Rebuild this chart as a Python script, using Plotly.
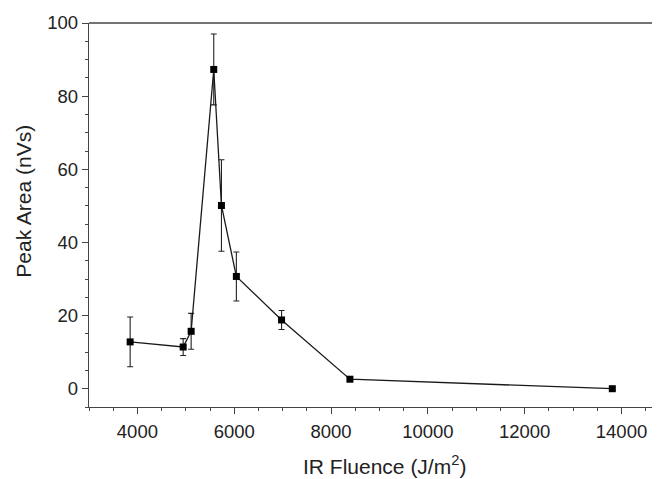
import plotly.graph_objects as go

fluence = [3850, 4945, 5110, 5577, 5736, 6044, 6978, 8390, 13810]
peak_area = [12.8, 11.4, 15.7, 87.3, 50.1, 30.7, 18.8, 2.6, 0.0]
err = [6.8, 2.3, 4.9, 9.7, 12.5, 6.7, 2.6, 0.4, 0.3]

x_ticks = [4000, 6000, 8000, 10000, 12000, 14000]
y_ticks = [0, 20, 40, 60, 80, 100]

x_title = "IR Fluence (J/m<sup>2</sup>)"
y_title = "Peak Area (nVs)"

fig = go.Figure()
fig.add_trace(go.Scatter(
    x=fluence, y=peak_area, mode="lines+markers",
    line=dict(color="#1a1a1a", width=1.3),
    marker=dict(symbol="square", size=7, color="black"),
    error_y=dict(type="data", array=err, visible=True, color="#222222", thickness=1.1, width=3),
    showlegend=False,
))

font = dict(family="Liberation Sans, Arial, sans-serif", color="#222222")
axcol = "#444444"

fig.update_layout(
    width=664, height=479,
    margin=dict(l=89, r=12, t=20, b=72),
    paper_bgcolor="white", plot_bgcolor="white",
    font=font,
    xaxis=dict(
        range=[3000, 14630], tickvals=x_ticks, ticktext=[str(v) for v in x_ticks],
        showgrid=False, zeroline=False, showline=True, linecolor=axcol, linewidth=1.3,
        ticks="outside", ticklen=6, tickwidth=1.2, tickcolor=axcol,
        minor=dict(dtick=500, tick0=0, ticks="outside", ticklen=3, tickwidth=1, tickcolor=axcol,
                   showgrid=False),
        tickfont=dict(size=18.5), ticklabelstandoff=2,
    ),
    yaxis=dict(
        range=[-5, 100], tickvals=y_ticks, ticktext=[str(v) for v in y_ticks],
        showgrid=False, zeroline=False, showline=True, linecolor=axcol, linewidth=1.3,
        ticks="outside", ticklen=6, tickwidth=1.2, tickcolor=axcol,
        minor=dict(dtick=5, tick0=0, ticks="outside", ticklen=3, tickwidth=1, tickcolor=axcol,
                   showgrid=False),
        tickfont=dict(size=18.5),
    ),
    shapes=[dict(type="line", xref="paper", yref="paper", x0=0, x1=1, y0=1, y1=1,
                 line=dict(color=axcol, width=1.3))],
    annotations=[
        dict(text=x_title, xref="paper", yref="paper", x=0.525, y=-0.152, yanchor="middle",
             xanchor="center", showarrow=False, font=dict(size=21)),
        dict(text=y_title, xref="paper", yref="paper", x=-0.117, y=0.535, textangle=-90,
             xanchor="center", yanchor="middle", showarrow=False, font=dict(size=21)),
    ],
)

fig.write_html("out.html")
